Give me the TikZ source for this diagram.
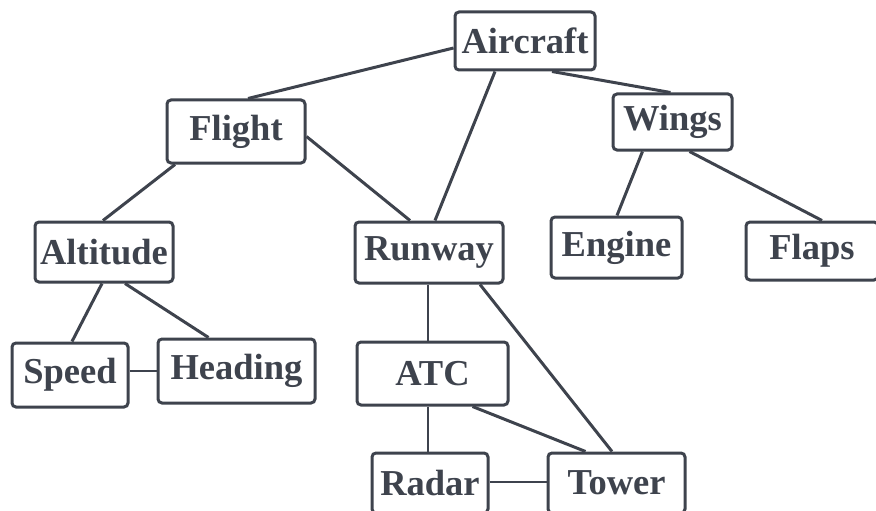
\documentclass[tikz,border=0pt]{standalone}
\usepackage{fontspec}
\setmainfont{Liberation Serif}
\usepackage{tikz}
\usepackage{xcolor}
\usetikzlibrary{positioning, calc}
\definecolor{InkGray}{HTML}{3E434D}
\tikzset{
    % Box styles with rounded corners
    part/.style={
        rectangle,
        rounded corners=4pt,
        draw=InkGray,
        fill=white,
        line width=3pt,
        minimum width=138pt,
        minimum height=60pt,
        inner sep=0pt,
        align=center,
        text=InkGray,
        font=\fontsize{36.5}{40}\selectfont\bfseries
    },
    link/.style={
        line width=3pt,
        InkGray
    },
    thin link/.style={
        line width=2pt,
        InkGray
    }
}

\begin{document}
\begin{tikzpicture}[x=1pt, y=-1pt]
        \useasboundingbox (0,0) rectangle (876,511);

        % Top level
        \node[part, minimum width=140pt, minimum height=58pt] (aircraft) at (525, 41) {Aircraft};

        % Second level
        \node[part, minimum height=63pt] (flight) at (236, 131.5) {Flight};
        \node[part, minimum width=119pt, minimum height=56pt] (wings) at (672.5, 122) {Wings};

        % Third level
        \node[part] (altitude) at (104, 252) {Altitude};
        \node[part, minimum width=148pt, minimum height=61pt] (runway) at (429, 252.5) {Runway};
        \node[part, minimum width=131pt, minimum height=61pt] (engine) at (616.5, 247.5) {Engine};
        \node[part, minimum width=132pt, minimum height=58pt] (flaps) at (812, 251) {Flaps};

        % Fourth level
        \node[part, minimum width=116pt, minimum height=64pt] (speed) at (70, 375) {Speed};
        \node[part, minimum width=157pt, minimum height=64pt] (heading) at (236.5, 371) {Heading};
        \node[part, minimum width=151pt, minimum height=63pt] (atc) at (432.5, 373.5) {ATC};

        % Bottom level
        \node[part, minimum width=116pt] (radar) at (430, 483) {Radar};
        \node[part, minimum width=137pt] (tower) at (616.5, 483) {Tower};

        % Links
        \draw[link] ([yshift=-7pt]aircraft.west) -- ([xshift=12pt]flight.north);
        \draw[link] ([xshift=-30pt]aircraft.south) -- ([xshift=6pt]runway.north);
        \draw[link] ([xshift=27pt]aircraft.south) -- ([xshift=-2pt]wings.north);
        \draw[link] ([xshift=-61pt]flight.south) -- ([xshift=-1pt]altitude.north);
        \draw[link] ([yshift=-5pt]flight.east) -- ([xshift=-19pt]runway.north);
        \draw[link] ([xshift=-30pt]wings.south) -- ([xshift=0.5pt]engine.north);
        \draw[link] ([xshift=17pt]wings.south) -- ([xshift=10pt]flaps.north);
        \draw[link] ([xshift=-2pt]altitude.south) -- ([xshift=2pt]speed.north);
        \draw[link] ([xshift=21pt]altitude.south) -- ([xshift=-28pt]heading.north);
        \draw[thin link] ([yshift=4pt]speed.east) -- (heading.west);
        \draw[thin link] ([xshift=-1pt]runway.south) -- ([xshift=-1pt]runway.south |- atc.north);
        \draw[link] ([xshift=51pt]runway.south) -- ([xshift=-4.5pt]tower.north);
        \draw[link] ([xshift=40pt]atc.south) -- ([xshift=-31pt]tower.north);
        \draw[thin link] ([xshift=-4.5pt]atc.south) -- ([xshift=-4.5pt]atc.south |- radar.north);
        \draw[thin link] ([yshift=1pt]radar.east) -- ([yshift=1pt]tower.west);
    \end{tikzpicture}
\end{document}
